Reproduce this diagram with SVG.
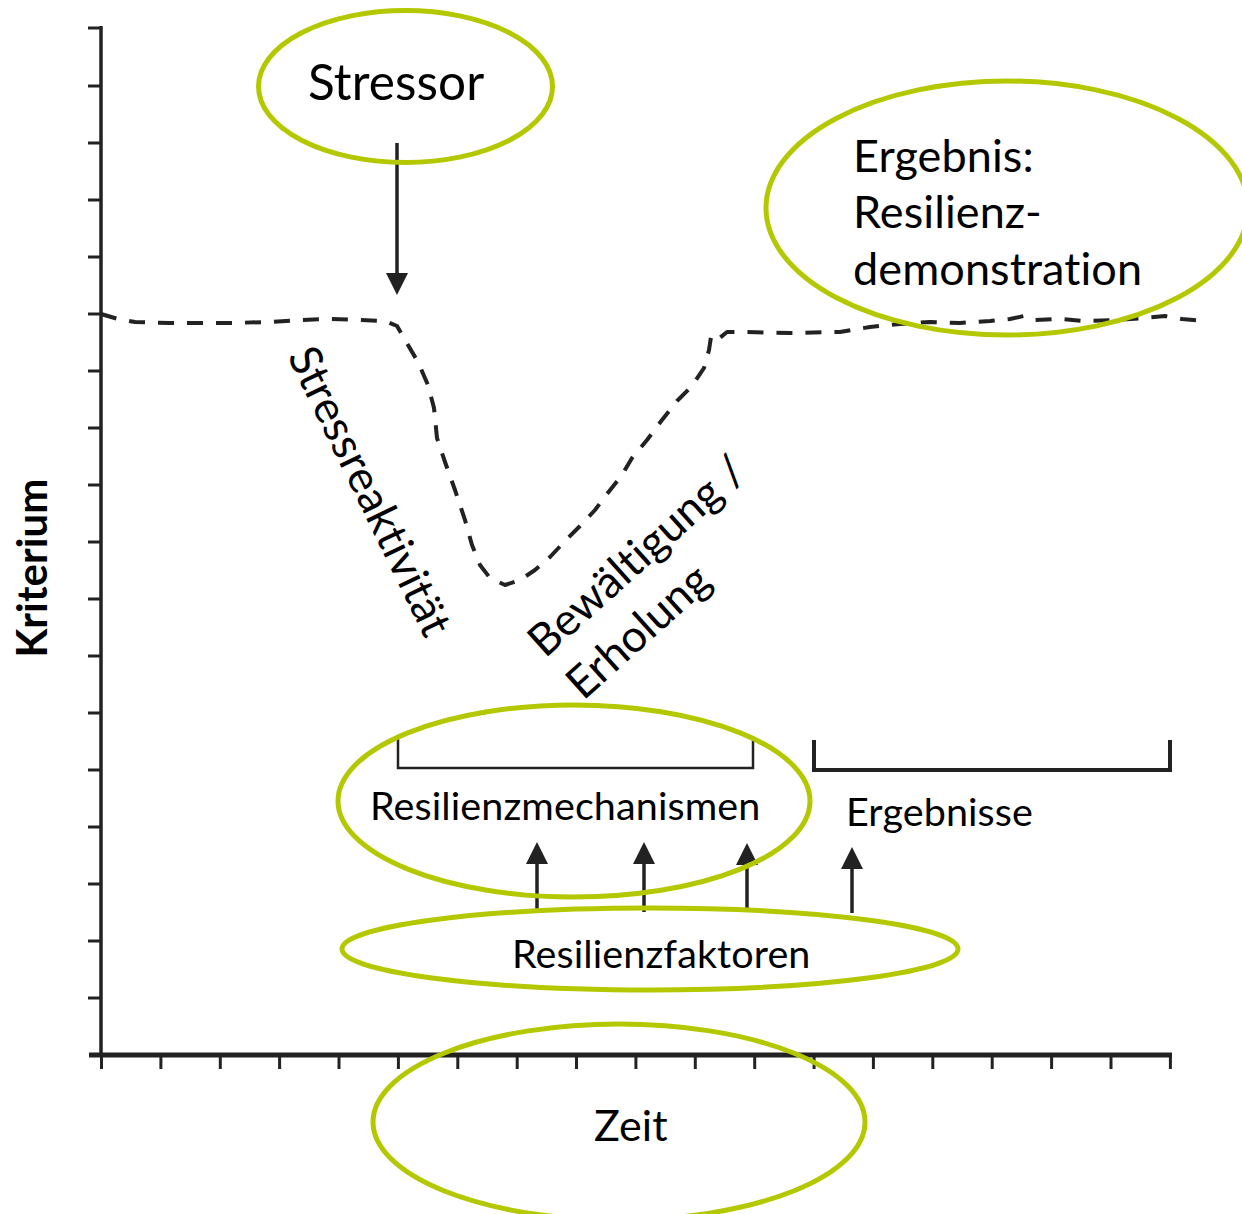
<svg xmlns="http://www.w3.org/2000/svg" width="1242" height="1214" viewBox="0 0 1242 1214">
  <style>
    .axis { stroke: #222; fill: none; stroke-linecap: butt; }
    .tick { stroke: #222; stroke-width: 3; }
    .curve { stroke: #222; stroke-width: 4; fill: none; stroke-dasharray: 16 13; stroke-linejoin: round; }
    .ring { fill: none; stroke: #b4c800; stroke-width: 5; }
    .lbl { font-family: Lato, "Liberation Sans", sans-serif; fill: #000; letter-spacing: 0.1px; font-variant-ligatures: none; font-feature-settings: "liga" 0, "clig" 0, "dlig" 0, "hlig" 0, "calt" 0; }
    .conn { stroke: #222; stroke-width: 3.5; fill: none; }
    .bracket { stroke: #222; fill: none; }
  </style>
  <defs>
    <marker id="head" markerUnits="userSpaceOnUse" markerWidth="22" markerHeight="22" viewBox="0 0 22 22" refX="0" refY="11" orient="auto">
      <path d="M0,0 L22,11 L0,22 z" fill="#222"/>
    </marker>
  </defs>

  <rect width="1242" height="1214" fill="#fff"/>

  <!-- axes with tick marks -->
  <g id="axes">
    <line class="axis" x1="101" y1="26" x2="101" y2="1057" stroke-width="3.5"/>
    <line class="axis" x1="89" y1="1055" x2="1172" y2="1055" stroke-width="5"/>
    <g class="tick">
      <line x1="88" y1="28" x2="101" y2="28"/>
      <line x1="88" y1="86" x2="101" y2="86"/>
      <line x1="88" y1="143" x2="101" y2="143"/>
      <line x1="88" y1="200" x2="101" y2="200"/>
      <line x1="88" y1="257" x2="101" y2="257"/>
      <line x1="88" y1="314" x2="101" y2="314"/>
      <line x1="88" y1="371" x2="101" y2="371"/>
      <line x1="88" y1="428" x2="101" y2="428"/>
      <line x1="88" y1="485" x2="101" y2="485"/>
      <line x1="88" y1="542" x2="101" y2="542"/>
      <line x1="88" y1="599" x2="101" y2="599"/>
      <line x1="88" y1="656" x2="101" y2="656"/>
      <line x1="88" y1="713" x2="101" y2="713"/>
      <line x1="88" y1="770" x2="101" y2="770"/>
      <line x1="88" y1="827" x2="101" y2="827"/>
      <line x1="88" y1="884" x2="101" y2="884"/>
      <line x1="88" y1="941" x2="101" y2="941"/>
      <line x1="88" y1="998" x2="101" y2="998"/>

      <line x1="101.5" y1="1055" x2="101.5" y2="1069"/>
      <line x1="160.9" y1="1055" x2="160.9" y2="1069"/>
      <line x1="220.3" y1="1055" x2="220.3" y2="1069"/>
      <line x1="279.6" y1="1055" x2="279.6" y2="1069"/>
      <line x1="339" y1="1055" x2="339" y2="1069"/>
      <line x1="398.4" y1="1055" x2="398.4" y2="1069"/>
      <line x1="457.8" y1="1055" x2="457.8" y2="1069"/>
      <line x1="517.2" y1="1055" x2="517.2" y2="1069"/>
      <line x1="576.5" y1="1055" x2="576.5" y2="1069"/>
      <line x1="635.9" y1="1055" x2="635.9" y2="1069"/>
      <line x1="695.3" y1="1055" x2="695.3" y2="1069"/>
      <line x1="754.7" y1="1055" x2="754.7" y2="1069"/>
      <line x1="814.1" y1="1055" x2="814.1" y2="1069"/>
      <line x1="873.4" y1="1055" x2="873.4" y2="1069"/>
      <line x1="932.8" y1="1055" x2="932.8" y2="1069"/>
      <line x1="992.2" y1="1055" x2="992.2" y2="1069"/>
      <line x1="1051.6" y1="1055" x2="1051.6" y2="1069"/>
      <line x1="1111" y1="1055" x2="1111" y2="1069"/>
      <line x1="1170.4" y1="1055" x2="1170.4" y2="1069"/>
    </g>
    <text class="lbl" transform="translate(47,568) rotate(-90)" text-anchor="middle" font-size="42" font-weight="bold">Kriterium</text>
  </g>

  <!-- dashed criterion curve over time -->
  <g id="curve">
    <path class="curve" d="M101,314 L118,319 L135,322 L170,323 L230,323 L270,322 L300,320 L330,319 L360,320 L385,321 L397,326 L405,340 L418,362 L428,385 L434,408 L437,438 L445,462 L455,490 L465,520 L472,545 L480,565 L490,578 L505,585 L520,580 L535,570 L550,557 L565,541 L580,526 L595,510 L607,494 L622,475 L632,458 L647,440 L662,420 L677,401 L692,386 L704,368 L709,350 L711,337 L716,341 L727,332 L745,332 L790,333 L840,332 L870,327 L900,324 L930,322 L960,323 L990,321 L1010,319 L1024,316 L1035,320 L1060,319 L1085,321 L1115,320 L1145,318 L1165,316 L1182,319 L1205,321"/>
  </g>

  <!-- arrows and brackets -->
  <g id="connectors">
    <line class="conn" x1="397" y1="143" x2="397" y2="273" stroke-width="4" marker-end="url(#head)"/>
    <line class="conn" x1="537" y1="910" x2="537" y2="864" marker-end="url(#head)"/>
    <line class="conn" x1="644" y1="912" x2="644" y2="864" marker-end="url(#head)"/>
    <line class="conn" x1="747" y1="912" x2="747" y2="865" marker-end="url(#head)"/>
    <line class="conn" x1="852" y1="913" x2="852" y2="869" marker-end="url(#head)"/>
    <path class="bracket" stroke-width="2.5" d="M398,738 L398,768 L753,768 L753,738"/>
    <path class="bracket" stroke-width="4" d="M814,740 L814,770 L1170,770 L1170,740"/>
  </g>

  <!-- free-standing labels along the curve -->
  <g id="curve-labels">
    <text class="lbl" font-size="44.5" transform="translate(287,356) rotate(64)">Stressreaktivität</text>
    <text class="lbl" font-size="44.5" transform="translate(545,659) rotate(-42)">
      <tspan x="0" y="0">Bewältigung /</tspan>
      <tspan x="0" y="57">Erholung</tspan>
    </text>
    <text class="lbl" font-size="39.5" x="846" y="826">Ergebnisse</text>
  </g>

  <g id="node-stressor">
    <ellipse class="ring" cx="405.5" cy="86.5" rx="147" ry="76"/>
    <text class="lbl" font-size="49.5" x="308" y="100">Stressor</text>
  </g>

  <g id="node-ergebnis">
    <ellipse class="ring" cx="1007" cy="208" rx="241" ry="127"/>
    <text class="lbl" font-size="45">
      <tspan x="853" y="172">Ergebnis:</tspan>
      <tspan x="853" y="228">Resilienz-</tspan>
      <tspan x="853" y="285">demonstration</tspan>
    </text>
  </g>

  <g id="node-mechanismen">
    <ellipse class="ring" cx="574" cy="801" rx="236" ry="96"/>
    <text class="lbl" font-size="39.5" x="370" y="820">Resilienzmechanismen</text>
  </g>

  <g id="node-faktoren">
    <ellipse class="ring" cx="650" cy="949" rx="308" ry="41"/>
    <text class="lbl" font-size="39.5" x="512" y="968">Resilienzfaktoren</text>
  </g>

  <g id="node-zeit">
    <ellipse class="ring" cx="619" cy="1122" rx="246" ry="98"/>
    <text class="lbl" font-size="43" x="594" y="1141">Zeit</text>
  </g>
</svg>
